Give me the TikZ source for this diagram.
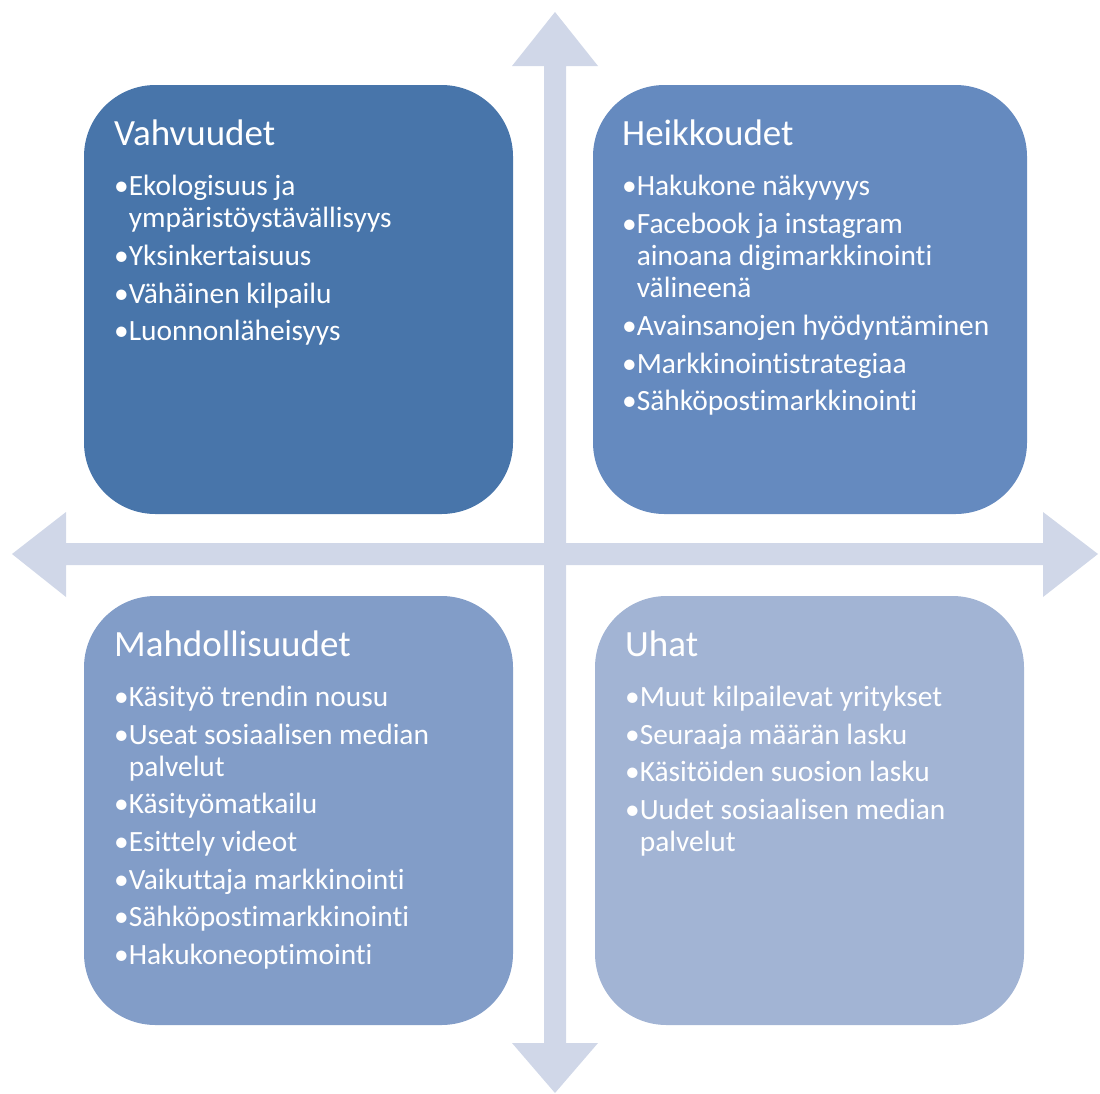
\documentclass[tikz,border=0pt]{standalone}
\usepackage{fontspec}
\setmainfont{Carlito}[Ligatures={NoCommon}]
\definecolor{cS}{RGB}{72,117,170}
\definecolor{cW}{RGB}{101,138,191}
\definecolor{cO}{RGB}{130,157,200}
\definecolor{cT}{RGB}{162,180,212}
\definecolor{cArr}{RGB}{208,215,232}
\tikzset{
  quad/.style={rounded corners=71.5pt, draw=none},
  ttl/.style={anchor=base west, inner sep=0pt, text=white, font=\fontsize{37}{44}\selectfont},
  itm/.style={anchor=base west, inner sep=0pt, text=white, font=\fontsize{29.4}{34}\selectfont},
  arr/.style={fill=cArr, draw=none}
}
\newcommand{\tline}[4]{\node[itm] (#1) at (#2,#3) {#4};}
\begin{document}
\begin{tikzpicture}[x=1pt,y=-1pt]
\useasboundingbox (0,0) rectangle (1100,1093);
% axes arrows
\fill[arr] (544,66) -- (512,66) -- (555,12) -- (598,66) -- (566,66) -- (566,1043) -- (598,1043) -- (555,1093) -- (512,1043) -- (544,1043) -- cycle;
\fill[arr] (66,543) -- (66,512) -- (12,554) -- (66,597) -- (66,565) -- (1043,565) -- (1043,597) -- (1098,554) -- (1043,512) -- (1043,543) -- cycle;
% quadrants
\fill[quad, cS] (84,85) rectangle (513,514);
\fill[quad, cW] (593,85) rectangle (1027,514);
\fill[quad, cO] (84,596) rectangle (513,1025);
\fill[quad, cT] (595,596) rectangle (1024,1025);
% Vahvuudet
\node[ttl] (s0) at (114,145) {Vahvuudet};
\tline{s1}{114}{195}{•Ekologisuus ja}
\tline{s1b}{114}{227}{\hphantom{•}ympäristöystävällisyys}
\tline{s2}{114}{265}{•Yksinkertaisuus}
\tline{s3}{114}{303}{•Vähäinen kilpailu}
\tline{s4}{114}{340}{•Luonnonläheisyys}
% Heikkoudet
\node[ttl] (w0) at (622,145) {Heikkoudet};
\tline{w1}{622}{195}{•Hakukone näkyvyys}
\tline{w2}{622}{233}{•Facebook ja instagram}
\tline{w2b}{622}{265}{\hphantom{•}ainoana digimarkkinointi}
\tline{w2c}{622}{297}{\hphantom{•}välineenä}
\tline{w3}{622}{335}{•Avainsanojen hyödyntäminen}
\tline{w4}{622}{373}{•Markkinointistrategiaa}
\tline{w5}{622}{410}{•Sähköpostimarkkinointi}
% Mahdollisuudet
\node[ttl] (o0) at (114,656) {Mahdollisuudet};
\tline{o1}{114}{706}{•Käsityö trendin nousu}
\tline{o2}{114}{744}{•Useat sosiaalisen median}
\tline{o2b}{114}{776}{\hphantom{•}palvelut}
\tline{o3}{114}{813}{•Käsityömatkailu}
\tline{o4}{114}{851}{•Esittely videot}
\tline{o5}{114}{889}{•Vaikuttaja markkinointi}
\tline{o6}{114}{926}{•Sähköpostimarkkinointi}
\tline{o7}{114}{964}{•Hakukoneoptimointi}
% Uhat
\node[ttl] (t0) at (625,656) {Uhat};
\tline{t1}{625}{706}{•Muut kilpailevat yritykset}
\tline{t2}{625}{744}{•Seuraaja määrän lasku}
\tline{t3}{625}{781}{•Käsitöiden suosion lasku}
\tline{t4}{625}{819}{•Uudet sosiaalisen median}
\tline{t4b}{625}{851}{\hphantom{•}palvelut}
\end{tikzpicture}
\end{document}
